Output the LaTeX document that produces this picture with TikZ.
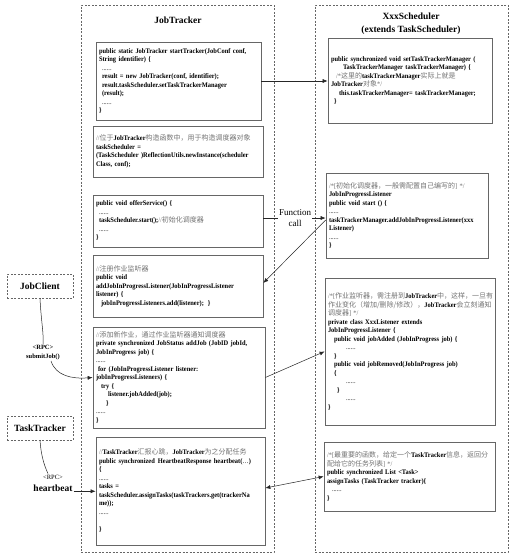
\documentclass[tikz,border=0pt]{standalone}
\usepackage{fontspec}
\setmainfont{Liberation Serif}
\newfontfamily\codefam{Liberation Serif}[FakeStretch=0.92]
\newfontfamily\cjk{Noto Sans CJK SC}
\usetikzlibrary{arrows.meta}
\newcommand\zh[1]{{\cjk\mdseries\color{black!55}#1}}
\newcommand\cm[1]{{\mdseries\color{black!55}#1}}
\newcommand\codefont{\codefam\bfseries\fontsize{7}{8.5}\selectfont\hyphenpenalty=10000\exhyphenpenalty=10000}
\newcommand\ind[1]{\hspace*{#1pt}}
\newcommand\dd{{\mdseries......}}
\begin{document}
\begin{tikzpicture}[x=1pt,y=-1pt,
  codebox/.style={draw=black!60, line width=0.7pt, inner xsep=3pt, inner ysep=2pt, align=left, font=\codefont},
  dbox/.style={draw=black!60, line width=0.6pt, dash pattern=on 2pt off 1.5pt},
  conn/.style={draw=black!85, line width=0.5pt},
  arr/.style={-{Latex[length=5pt,width=4pt]}},
  biarr/.style={{Latex[length=5pt,width=4pt]}-{Latex[length=5pt,width=4pt]}},
  titlefont/.style={font=\bfseries\fontsize{9.5}{13}\selectfont, align=center, inner sep=1pt}]
\fill[white] (0,0) rectangle (515,557);
\useasboundingbox (0,0) rectangle (515,557);

% containers
\node[dbox, minimum width=193pt, minimum height=547pt, inner sep=0pt] (jt) at (177.5,278.5) {};
\node[dbox, minimum width=193pt, minimum height=547pt, inner sep=0pt] (xs) at (411.5,278.5) {};
\node[titlefont] (jtt) at (178,20) {JobTracker};
\node[titlefont] (xst) at (411,23.5) {XxxScheduler\\(extends TaskScheduler)};

% JobTracker boxes
\node[codebox, text width=159pt, minimum height=78pt] (b1) at (178.5,81) {%
public static JobTracker startTracker(JobConf conf,\\
String identifier) \{\\
\ind{3}\dd\\
\ind{3}result = new JobTracker(conf, identifier);\\
\ind{3}result.taskScheduler.setTaskTrackerManager\\
\ind{3}(result);\\
\ind{3}\dd\\
\}};

\node[codebox, text width=164pt, minimum height=51pt] (b2) at (178,151.5) {%
\cm{//}\zh{位于}JobTracker\zh{构造函数中，用于构造调度器对象}\\
taskScheduler =\\
(TaskScheduler )ReflectionUtils.newInstance(scheduler\\
Class, conf);};

\node[codebox, text width=164pt, minimum height=52pt] (b3) at (178,221) {%
public void offerService() \{\\
\ind{3}\dd\\
\ind{3}taskScheduler.start();\cm{//}\zh{初始化调度器}\\
\ind{3}\dd\\
\}};

\node[codebox, text width=164pt, minimum height=62pt] (b4) at (178,286) {%
\cm{//}\zh{注册作业监听器}\\
public void\\
addJobInProgressListener(JobInProgressListener\\
listener) \{\\
\ind{5}jobInProgressListeners.add(listener);\ind{4}\}};

\node[codebox, text width=166pt, minimum height=101pt] (b5) at (179,377.5) {%
\cm{//}\zh{添加新作业，通过作业监听器通知调度器}\\
private synchronized JobStatus addJob (JobID jobId,\\
JobInProgress job) \{\\
\dd\\
\ind{2}for (JobInProgressListener listener:\\
jobInProgressListeners) \{\\
\ind{5}try \{\\
\ind{12}listener.jobAdded(job);\\
\ind{10}\}\\
\dd\\
\}};

\node[codebox, text width=163pt, minimum height=108pt] (b6) at (180.5,491) {%
\cm{//}TaskTracker\zh{汇报心跳，}JobTracker\zh{为之分配任务}\\
public synchronized\ind{3}HeartbeatResponse heartbeat({\mdseries…})\\
\{\\
\dd\\
tasks =\\
taskScheduler.assignTasks(taskTrackers.get(trackerNa\\
me));\\
\dd\\[9pt]
\}};

% Scheduler boxes
\node[codebox, text width=158pt, minimum height=85pt] (s1) at (410,80.5) {%
public synchronized void setTaskTrackerManager (\\
\ind{12}TaskTrackerManager taskTrackerManager) \{\\
\ind{5}\cm{/*}\zh{这里的}taskTrackerManager\zh{实际上就是}\\
JobTracker\zh{对象}\cm{*/}\\
\ind{8}this.taskTrackerManager= taskTrackerManager;\\
\ind{3}\}};

\node[codebox, text width=156pt, minimum height=85pt] (s2) at (407,215.5) {%
\cm{/*[}\zh{初始化调度器，一般需配置自己编写的}\cm{] */}\\
JobInProgressListener\\
public void start () \{\\
\dd\\
taskTrackerManager.addJobInProgressListener(xxx\\
Listener)\\
\dd\\
\}};

\node[codebox, text width=164pt, minimum height=147pt] (s3) at (410,351.5) {%
\cm{/*[}\zh{作业监听器，需注册到}JobTracker\zh{中，这样，一旦有}\\
\zh{作业变化（增加/删除/修改），}JobTracker\zh{会立刻通知}\\
\zh{调度器}\cm{] */}\\
private class XxxListener extends\\
JobInProgressListener \{\\
\ind{6}public void jobAdded (JobInProgress job) \{\\
\ind{18}\dd\\
\ind{6}\}\\
\ind{6}public void jobRemoved(JobInProgress job)\\
\ind{6}\{\\
\ind{18}\dd\\
\ind{9}\}\\
\ind{18}\dd\\
\}};

\node[codebox, text width=165pt, minimum height=69pt] (s4) at (409.5,476.5) {%
\cm{/*[}\zh{最重要的函数，给定一个}TaskTracker\zh{信息，返回分}\\
\zh{配给它的任务列表}\cm{] */}\\
public synchronized List <Task>\\
assignTasks (TaskTracker tracker)\{\\
\ind{5}\dd\\
\}};

% outside actors
\node[dbox, titlefont, minimum width=66pt, minimum height=24pt] (jc) at (40,286) {JobClient};
\node[dbox, titlefont, minimum width=66pt, minimum height=24pt] (tt) at (40,428) {TaskTracker};

% labels
\node[font=\fontsize{9}{10.5}\selectfont, align=center, inner sep=1pt, fill=white] (fc) at (295,218) {Function\\call};
\node[font=\bfseries\fontsize{6.5}{9}\selectfont, align=center, inner sep=1pt] (rpc1) at (43,352.5) {<RPC>\\submitJob()};
\node[font=\fontsize{6.5}{8}\selectfont, inner sep=1pt] (rpc2) at (53,477) {<RPC>};
\node[font=\bfseries\fontsize{9.5}{11}\selectfont, inner sep=1pt] (hb) at (53,488) {heartbeat};

% connectors
\draw[conn,arr] (b1.east) -- (b1.east -| s1.west);
\draw[conn] (fc.west -| b3.east) -- (fc.west);
\draw[conn,arr] (fc.east) -- (fc.east -| s2.west);
\draw[conn,arr] ([yshift=-4.5pt]s2.west) -- ([yshift=3pt]b4.east);
\draw[conn,arr] (b5.east) -- (s3.west);
\draw[conn,biarr] ([yshift=3pt]b6.east) -- (s4.west);
\draw[conn] (jc.south) .. controls (41,320) and (44,335) .. (rpc1.north);
\draw[conn,arr] ([xshift=8pt]rpc1.south) .. controls (56,376) and (72,379) .. (b5.west);
\draw[conn] (tt.south) .. controls (41,455) and (44,465) .. ([xshift=-5pt]rpc2.north);
\draw[conn,arr] (hb.base east) -- (hb.base east -| b6.west);
\end{tikzpicture}
\end{document}
